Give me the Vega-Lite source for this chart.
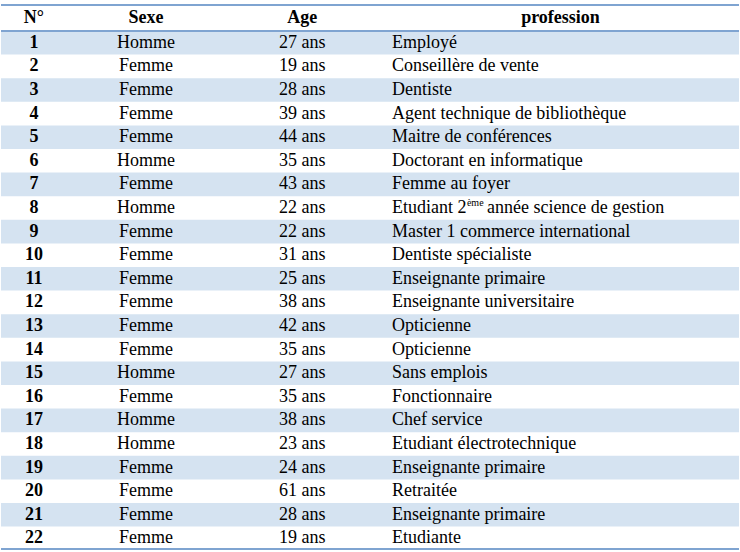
{
  "$schema": "https://vega.github.io/schema/vega-lite/v6.json",
  "width": 740,
  "height": 552,
  "autosize": {"type": "fit", "contains": "padding"},
  "padding": 0,
  "background": "white",
  "config": {
    "view": {"stroke": null},
    "text": {"font": "Liberation Serif", "fontSize": 18, "color": "#000000", "baseline": "middle"}
  },
  "datasets": {
    "lignes": [
      {"N": 1, "Sexe": "Homme", "Age": "27 ans", "profession": "Employé"},
      {"N": 2, "Sexe": "Femme", "Age": "19 ans", "profession": "Conseillère de vente"},
      {"N": 3, "Sexe": "Femme", "Age": "28 ans", "profession": "Dentiste"},
      {"N": 4, "Sexe": "Femme", "Age": "39 ans", "profession": "Agent technique de bibliothèque"},
      {"N": 5, "Sexe": "Femme", "Age": "44 ans", "profession": "Maitre de conférences"},
      {"N": 6, "Sexe": "Homme", "Age": "35 ans", "profession": "Doctorant en informatique"},
      {"N": 7, "Sexe": "Femme", "Age": "43 ans", "profession": "Femme au foyer"},
      {"N": 8, "Sexe": "Homme", "Age": "22 ans", "profession": "Etudiant 2ème année science  de gestion"},
      {"N": 9, "Sexe": "Femme", "Age": "22 ans", "profession": "Master 1 commerce international"},
      {"N": 10, "Sexe": "Femme", "Age": "31 ans", "profession": "Dentiste spécialiste"},
      {"N": 11, "Sexe": "Femme", "Age": "25 ans", "profession": "Enseignante primaire"},
      {"N": 12, "Sexe": "Femme", "Age": "38 ans", "profession": "Enseignante universitaire"},
      {"N": 13, "Sexe": "Femme", "Age": "42 ans", "profession": "Opticienne"},
      {"N": 14, "Sexe": "Femme", "Age": "35 ans", "profession": "Opticienne"},
      {"N": 15, "Sexe": "Homme", "Age": "27  ans", "profession": "Sans emplois"},
      {"N": 16, "Sexe": "Femme", "Age": "35 ans", "profession": "Fonctionnaire"},
      {"N": 17, "Sexe": "Homme", "Age": "38 ans", "profession": "Chef service"},
      {"N": 18, "Sexe": "Homme", "Age": "23 ans", "profession": "Etudiant électrotechnique"},
      {"N": 19, "Sexe": "Femme", "Age": "24 ans", "profession": "Enseignante primaire"},
      {"N": 20, "Sexe": "Femme", "Age": "61 ans", "profession": "Retraitée"},
      {"N": 21, "Sexe": "Femme", "Age": "28 ans", "profession": "Enseignante primaire"},
      {"N": 22, "Sexe": "Femme", "Age": "19 ans", "profession": "Etudiante"}
    ]
  },
  "data": {"name": "lignes"},
  "layer": [
    {
      "transform": [{"filter": "datum.N % 2 == 1"}],
      "mark": {"type": "rect", "height": 23.6, "color": "#D5E3F1"},
      "encoding": {
        "y": {"field": "N", "type": "quantitative", "scale": {"domain": [-0.8136, 22.576], "reverse": true, "nice": false, "zero": false}, "axis": null},
        "x": {"value": 0},
        "x2": {"value": {"expr": "width"}}
      }
    },
    {
      "data": {"values": [{}]},
      "mark": {"type": "rule", "color": "#7FA4D1", "strokeWidth": 2},
      "encoding": {"y": {"datum": -0.6017, "type": "quantitative"}}
    },
    {
      "data": {"values": [{}]},
      "mark": {"type": "rule", "color": "#7FA4D1", "strokeWidth": 2},
      "encoding": {"y": {"datum": 0.5, "type": "quantitative"}}
    },
    {
      "data": {"values": [{}]},
      "mark": {"type": "rule", "color": "#7FA4D1", "strokeWidth": 2},
      "encoding": {"y": {"datum": 22.45, "type": "quantitative"}}
    },
    {
      "data": {"values": [{}]},
      "mark": {"type": "text", "fontWeight": "bold", "align": "center"},
      "encoding": {
        "x": {"datum": 0.0446, "type": "quantitative", "scale": {"domain": [0, 1], "nice": false, "zero": false}, "axis": null},
        "y": {"datum": -0.05, "type": "quantitative"},
        "text": {"value": "N°"}
      }
    },
    {
      "data": {"values": [{}]},
      "mark": {"type": "text", "fontWeight": "bold", "align": "center"},
      "encoding": {
        "x": {"datum": 0.1966, "type": "quantitative"},
        "y": {"datum": -0.05, "type": "quantitative"},
        "text": {"value": "Sexe"}
      }
    },
    {
      "data": {"values": [{}]},
      "mark": {"type": "text", "fontWeight": "bold", "align": "center"},
      "encoding": {
        "x": {"datum": 0.4081, "type": "quantitative"},
        "y": {"datum": -0.05, "type": "quantitative"},
        "text": {"value": "Age"}
      }
    },
    {
      "data": {"values": [{}]},
      "mark": {"type": "text", "fontWeight": "bold", "align": "center"},
      "encoding": {
        "x": {"datum": 0.7581, "type": "quantitative"},
        "y": {"datum": -0.05, "type": "quantitative"},
        "text": {"value": "profession"}
      }
    },
    {
      "mark": {"type": "text", "fontWeight": "bold", "align": "center"},
      "encoding": {
        "x": {"datum": 0.0446, "type": "quantitative"},
        "y": {"field": "N", "type": "quantitative"},
        "text": {"field": "N"}
      }
    },
    {
      "mark": {"type": "text", "align": "center"},
      "encoding": {
        "x": {"datum": 0.1966, "type": "quantitative"},
        "y": {"field": "N", "type": "quantitative"},
        "text": {"field": "Sexe"}
      }
    },
    {
      "mark": {"type": "text", "align": "center"},
      "encoding": {
        "x": {"datum": 0.4081, "type": "quantitative"},
        "y": {"field": "N", "type": "quantitative"},
        "text": {"field": "Age"}
      }
    },
    {
      "transform": [{"filter": "indexof(datum.profession, 'ème') < 0"}],
      "mark": {"type": "text", "align": "left"},
      "encoding": {
        "x": {"datum": 0.5297, "type": "quantitative"},
        "y": {"field": "N", "type": "quantitative"},
        "text": {"field": "profession"}
      }
    },
    {
      "transform": [
        {"filter": "indexof(datum.profession, 'ème') >= 0"},
        {"calculate": "split(datum.profession, 'ème')[0]", "as": "debut"}
      ],
      "mark": {"type": "text", "align": "left"},
      "encoding": {
        "x": {"datum": 0.5297, "type": "quantitative"},
        "y": {"field": "N", "type": "quantitative"},
        "text": {"field": "debut"}
      }
    },
    {
      "transform": [{"filter": "indexof(datum.profession, 'ème') >= 0"}],
      "mark": {"type": "text", "align": "left", "fontSize": 10, "dx": 75, "dy": -5},
      "encoding": {
        "x": {"datum": 0.5297, "type": "quantitative"},
        "y": {"field": "N", "type": "quantitative"},
        "text": {"value": "ème"}
      }
    },
    {
      "transform": [
        {"filter": "indexof(datum.profession, 'ème') >= 0"},
        {"calculate": "trim(split(datum.profession, 'ème')[1])", "as": "fin"}
      ],
      "mark": {"type": "text", "align": "left", "dx": 95},
      "encoding": {
        "x": {"datum": 0.5297, "type": "quantitative"},
        "y": {"field": "N", "type": "quantitative"},
        "text": {"field": "fin"}
      }
    }
  ]
}
